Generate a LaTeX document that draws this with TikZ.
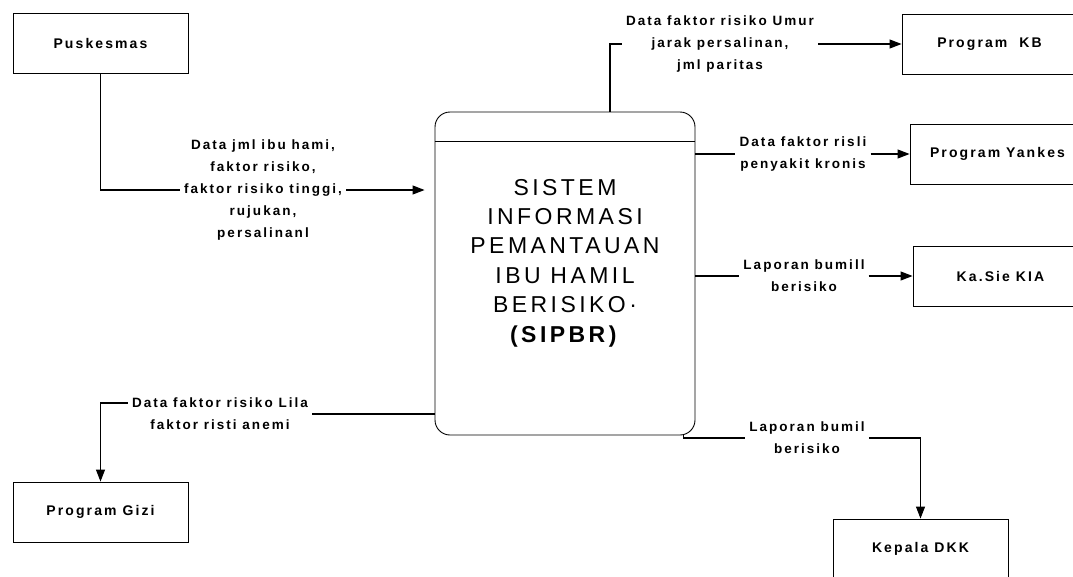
\documentclass[tikz,border=0pt]{standalone}
\usepackage{fontspec}
\setmainfont{Liberation Sans}
\newfontfamily\lblfont[LetterSpace=15]{Liberation Sans}
\newfontfamily\sysfont[LetterSpace=15]{Liberation Sans}
\usetikzlibrary{arrows.meta}

\begin{document}
\begin{tikzpicture}[x=1pt,y=-1pt,
  entbox/.style={draw,line width=.9pt,minimum width=175pt,minimum height=60pt,inner sep=0pt,
    font=\lblfont\bfseries\fontsize{14}{16}\selectfont},
  lbl/.style={align=center,inner sep=4pt,font=\lblfont\bfseries\fontsize{13.5}{22}\selectfont},
  flowline/.style={line width=1.1pt},
  flow/.style={flowline,-{Triangle[length=12pt,width=9pt]}}]
  \useasboundingbox (0,0) rectangle (1073,576);
  \node[entbox] (pusk) at (100.5,43.5) {Puskesmas};
  \node[entbox] (gizi) at (100.5,512) {Program Gizi};
  \node[entbox] (kb) at (989.5,44) {Program\ \ KB};
  \node[entbox] (yankes) at (997.5,154) {Program Yankes};
  \node[entbox] (kia) at (1000.5,276) {Ka.Sie KIA};
  \node[entbox] (dkk) at (920.5,549) {Kepala DKK};
  \node[draw,line width=.9pt,rounded corners=15pt,minimum width=260pt,minimum height=323pt] (sys) at (565,273.5) {};
  \draw[line width=.9pt] ([yshift=-30pt]sys.north west) -- ([yshift=-30pt]sys.north east);
  \node[align=center,font=\sysfont\fontsize{23}{29.4}\selectfont] (systxt) at (565,263)
    {SISTEM\\INFORMASI\\PEMANTAUAN\\IBU HAMIL\\BERISIKO·\\\textbf{(SIPBR)}};
  \node[lbl] (pusklbl) at (263,190) {Data jml ibu hami,\\faktor risiko,\\faktor risiko tinggi,\\rujukan,\\persalinanl};
  \node[lbl] (kblbl) at (720,44) {Data faktor risiko Umur\\jarak persalinan,\\jml paritas};
  \node[lbl] (yklbl) at (803,154) {Data faktor risli\\penyakit kronis};
  \node[lbl] (kialbl) at (804,276) {Laporan bumill\\berisiko};
  \node[lbl] (dkklbl) at (807,438) {Laporan bumil\\berisiko};
  \node[lbl] (gzlbl) at (220,414) {Data faktor risiko Lila\\faktor risti anemi};
  \draw[flowline] (pusk.south) |- (pusklbl.west);
  \draw[flow,shorten >=10pt] (pusklbl.east) -- (sys.west |- pusklbl.east);
  \draw[flowline] ([xshift=45pt]sys.north) |- (kblbl.west);
  \draw[flow] (kblbl.east) -- (kb.west);
  \draw[flowline] (sys.east |- yklbl.west) -- (yklbl.west);
  \draw[flow] (yklbl.east) -- (yankes.west);
  \draw[flowline] (sys.east |- kialbl.west) -- (kialbl.west);
  \draw[flow] (kialbl.east) -- (kia.west);
  \draw[flowline] ([xshift=-12pt]sys.south east) |- (dkklbl.west);
  \draw[flow] (dkklbl.east) -| (dkk.north);
  \draw[flowline] (sys.west |- gzlbl.east) -- (gzlbl.east);
  \draw[flow] ([yshift=11pt]gzlbl.west) -| (gizi.north);
\end{tikzpicture}
\end{document}
